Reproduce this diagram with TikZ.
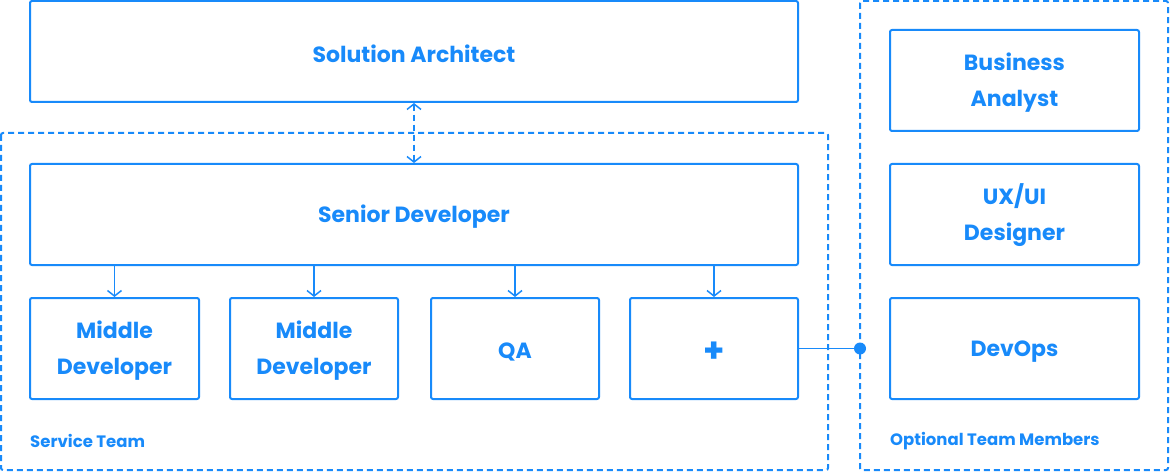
\documentclass[tikz,border=0pt]{standalone}
\usepackage{fontspec}
\setmainfont{Poppins}
\usepackage{tikz}
\usetikzlibrary{arrows.meta}
\usepackage{xcolor}
\definecolor{teamblue}{RGB}{24,138,250}
\newcommand{\toplift}{\rule{0pt}{22pt}}

\tikzset{
    rolebox/.style = {draw = teamblue, line width = 2pt, rounded corners = 2pt,
        minimum height = 101pt, align = center, text = teamblue,
        font = \fontsize{22}{36}\selectfont\bfseries},
    groupbox/.style = {draw = teamblue, line width = 2pt, dash pattern = on 6pt off 4pt,
        rounded corners = 2pt},
    grouplabel/.style = {text = teamblue, anchor = west, inner sep = 0pt,
        font = \fontsize{16.5}{20}\selectfont\bfseries},
    link/.style = {teamblue, line width = 1.5pt, -{Straight Barb[length = 5.5pt, width = 14pt]}}
}

\begin{document}
\begin{tikzpicture}[x = 1pt, y = -1pt]
        \useasboundingbox (0,0) rectangle (1170,473);

        \draw[groupbox] (1,133) rectangle (828,470);
        \draw[groupbox] (860,1) rectangle (1168,470);
        \node[grouplabel] (servicelabel) at (30,441) {Service Team};
        \node[grouplabel] (optlabel) at (890,441) {Optional Team Members};

        \node[rolebox, minimum width = 768pt] (architect) at (414,51.5) {\toplift Solution Architect};
        \node[rolebox, minimum width = 768pt] (senior) at (414,214.5) {\toplift Senior Developer};

        \node[rolebox, minimum width = 169pt] (middleA) at (114.5,348.5) {\toplift Middle\\Developer};
        \node[rolebox, minimum width = 168pt] (middleB) at (314,348.5) {\toplift Middle\\Developer};
        \node[rolebox, minimum width = 168pt] (qa) at (515,348.5) {\toplift QA};
        \node[rolebox, minimum width = 168pt, font = \fontsize{34}{36}\selectfont\bfseries] (plus) at (714,348.5) {\rule{0pt}{27pt}+};

        \node[rolebox, minimum width = 249pt] (analyst) at (1014.5,80.5) {\toplift Business\\Analyst};
        \node[rolebox, minimum width = 249pt] (designer) at (1014.5,214.5) {\toplift UX/UI\\Designer};
        \node[rolebox, minimum width = 249pt] (devops) at (1014.5,348.5) {\toplift DevOps};

        \draw[link, {Straight Barb[length = 5.5pt, width = 14pt]}-{Straight Barb[length = 5.5pt, width = 14pt]},
            dash pattern = on 6pt off 4pt] (architect.south) -- (senior.north);

        \foreach \target in {middleA, middleB, qa, plus}
            \draw[link] (senior.south -| \target.north) -- (\target.north);

        \node[circle, fill = teamblue, inner sep = 0pt, minimum size = 12pt] (joint) at (860,348.5) {};
        \draw[teamblue, line width = 1.5pt] (plus.east) -- (joint);

\end{tikzpicture}
\end{document}
